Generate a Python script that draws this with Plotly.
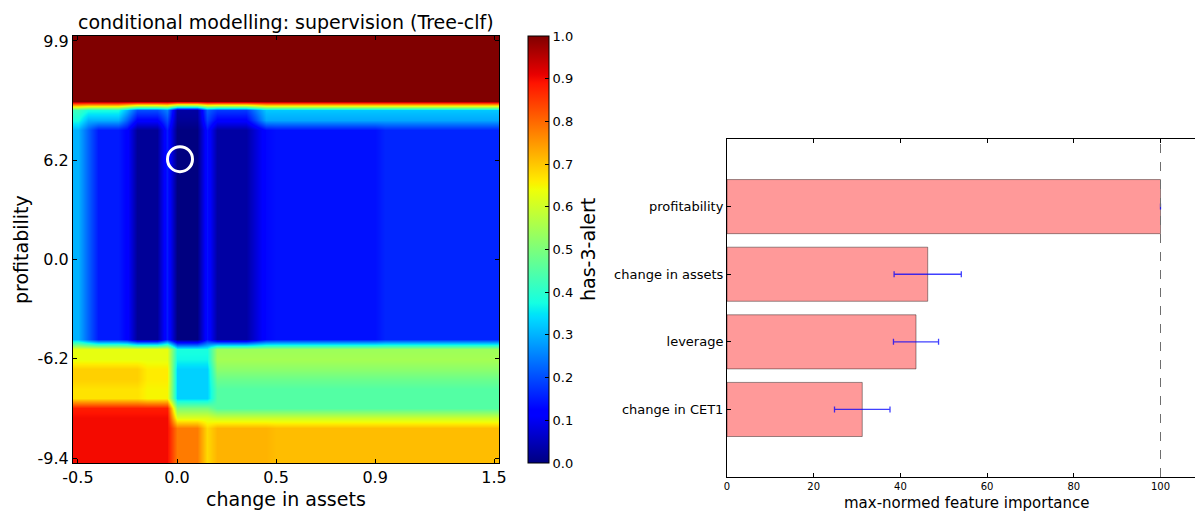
import plotly.graph_objects as go

# ---------------- data ----------------
# Heatmap grid (43 x 43 cells, index coordinates); tick labels on grid indices
tick_index = [0, 10, 20, 30, 42]
x_tick_labels = ["-0.5", "0.0", "0.5", "0.9", "1.5"]
y_tick_labels = ["-9.4", "-6.2", "0.0", "6.2", "9.9"]
n_grid = 43

# row profiles as (value, number of columns) runs, columns left -> right
red_row = [(1.0, 43)]
band_row = [(0.42, 1), (0.38, 4), (0.30, 1), (0.20, 3), (0.25, 1), (0.03, 3),
            (0.22, 1), (0.18, 4), (0.25, 1), (0.32, 24)]
band_row_2 = [(0.38, 1), (0.30, 4), (0.22, 1), (0.12, 3), (0.20, 1), (0.02, 3),
              (0.19, 1), (0.12, 4), (0.20, 1), (0.29, 24)]
body_row = [(0.30, 1), (0.22, 1), (0.15, 3), (0.12, 1), (0.02, 3), (0.15, 1), (0.00, 3),
            (0.14, 1), (0.03, 4), (0.08, 1), (0.13, 1), (0.14, 11), (0.16, 12)]
low_row_1 = [(0.63, 10), (0.38, 4), (0.54, 29)]
low_row_2 = [(0.63, 10), (0.37, 4), (0.55, 29)]
low_row_3 = [(0.69, 7), (0.66, 3), (0.33, 4), (0.52, 29)]
low_row_4 = [(0.69, 7), (0.66, 3), (0.33, 4), (0.48, 29)]
low_row_5 = [(0.67, 7), (0.65, 3), (0.33, 4), (0.45, 29)]
low_row_6 = [(0.67, 7), (0.65, 3), (0.33, 4), (0.45, 29)]
low_row_7 = [(0.88, 10), (0.50, 4), (0.45, 29)]
low_row_8 = [(0.90, 10), (0.62, 4), (0.60, 29)]
bottom_row = [(0.90, 10), (0.78, 3), (0.68, 1), (0.72, 6), (0.71, 23)]

# rows from top to bottom: (profile, repeat count)
row_sequence = [(red_row, 7), (band_row, 1), (band_row_2, 1), (body_row, 22),
                (low_row_1, 1), (low_row_2, 1), (low_row_3, 1), (low_row_4, 1),
                (low_row_5, 1), (low_row_6, 1), (low_row_7, 1), (low_row_8, 1),
                (bottom_row, 4)]

# highlighted instance (grid coordinates)
instance_x = [10.3]
instance_y = [30.1]

# Feature importance
features = ["profitability", "change in assets", "leverage", "change in CET1"]
importance = [100.0, 46.3, 43.6, 31.2]
importance_err = [0.0, 7.75, 5.2, 6.4]
bar_x_ticks = [0, 20, 40, 60, 80, 100]

# ---------------- build matrix ----------------
def expand(runs):
    out = []
    for v, n in runs:
        out.extend([v] * n)
    return out

z_top_down = []
for prof, rep in row_sequence:
    for _ in range(rep):
        z_top_down.append(expand(prof))
z = z_top_down[::-1]  # bottom row first (y index 0 at bottom)

# matplotlib 'jet'
jet = [[0.0, "rgb(0,0,128)"], [0.11, "rgb(0,0,255)"], [0.125, "rgb(0,0,255)"],
       [0.34, "rgb(0,219,255)"], [0.35, "rgb(0,230,247)"], [0.375, "rgb(21,255,226)"],
       [0.64, "rgb(239,255,8)"], [0.65, "rgb(247,246,0)"], [0.66, "rgb(255,236,0)"],
       [0.89, "rgb(255,19,0)"], [0.91, "rgb(232,0,0)"], [1.0, "rgb(128,0,0)"]]

W, H = 1195, 511
FONT = "DejaVu Sans"

def px_x(p):
    return p / W

def px_y(p):
    return 1 - p / H

fig = go.Figure()

fig.add_trace(go.Heatmap(
    z=z, x=list(range(n_grid)), y=list(range(n_grid)),
    zmin=0, zmax=1, colorscale=jet, zsmooth="best",
    xaxis="x", yaxis="y",
    colorbar=dict(
        x=px_x(527.5), xanchor="left", xpad=0, ypad=0,
        y=px_y(249.5), yanchor="middle", len=(463 - 36) / H, lenmode="fraction",
        thickness=21, thicknessmode="pixels",
        outlinecolor="black", outlinewidth=1,
        tickvals=[i / 10 for i in range(11)], tickformat=".1f",
        ticks="inside", ticklen=4, tickcolor="black",
        tickfont=dict(family=FONT, size=13, color="black"),
    ),
    hoverinfo="skip",
))

fig.add_trace(go.Scatter(
    x=instance_x, y=instance_y, mode="markers",
    marker=dict(symbol="circle-open", size=25, color="white", line=dict(width=3, color="white")),
    xaxis="x", yaxis="y", showlegend=False, hoverinfo="skip",
))

fig.add_trace(go.Bar(
    x=importance, y=features, orientation="h", width=0.8,
    marker=dict(color="rgb(255,153,153)", line=dict(color="rgba(0,0,0,0.4)", width=1)),
    error_x=dict(type="data", array=importance_err, color="rgba(0,0,255,0.75)",
                 thickness=1.3, width=3),
    xaxis="x2", yaxis="y2", showlegend=False,
))

axis_common = dict(showgrid=False, zeroline=False, showline=True, linecolor="black",
                   linewidth=1, ticks="inside", tickcolor="black", ticklen=4,
                   automargin=False)

fig.update_layout(
    template="none",
    width=W, height=H, margin=dict(l=0, r=0, t=0, b=0, pad=0), autosize=False,
    paper_bgcolor="white", plot_bgcolor="white",
    font=dict(family=FONT, color="black"),
    showlegend=False,
    xaxis=dict(domain=[px_x(73), px_x(499)], range=[-0.5, n_grid - 0.5],
               tickvals=tick_index, ticktext=x_tick_labels, mirror="ticks",
               tickfont=dict(size=16), anchor="y", **axis_common),
    yaxis=dict(domain=[px_y(463), px_y(36)], range=[-0.5, n_grid - 0.5],
               tickvals=tick_index, ticktext=y_tick_labels, mirror="ticks",
               tickfont=dict(size=16), anchor="x", **axis_common),
    xaxis2=dict(domain=[px_x(727), 1.0], range=[0, (1195 - 727) / 4.335],
                tickvals=bar_x_ticks, mirror="ticks", tickfont=dict(size=10),
                anchor="y2", **axis_common),
    yaxis2=dict(domain=[px_y(477), px_y(139)], range=[3.999, -1], type="category",
                categoryorder="array", categoryarray=features,
                tickfont=dict(size=13), anchor="x2", **axis_common),
    shapes=[dict(type="line", xref="x2", yref="y2 domain", x0=100, x1=100, y0=0, y1=1,
                 line=dict(color="rgb(110,110,110)", width=1, dash="dash"), layer="above")],
    annotations=[
        dict(text="conditional modelling: supervision (Tree-clf)", x=px_x(286), y=px_y(22),
             xref="paper", yref="paper", showarrow=False, xanchor="center", yanchor="middle",
             font=dict(size=19)),
        dict(text="change in assets", x=px_x(286), y=px_y(499), xref="paper", yref="paper",
             showarrow=False, xanchor="center", yanchor="middle", font=dict(size=19)),
        dict(text="profitability", x=px_x(21), y=px_y(250), xref="paper", yref="paper",
             showarrow=False, xanchor="center", yanchor="middle", textangle=-90,
             font=dict(size=19)),
        dict(text="has-3-alert", x=px_x(588), y=px_y(250), xref="paper", yref="paper",
             showarrow=False, xanchor="center", yanchor="middle", textangle=-90,
             font=dict(size=19)),
        dict(text="max-normed feature importance", x=px_x(966), y=px_y(503), xref="paper",
             yref="paper", showarrow=False, xanchor="center", yanchor="middle",
             font=dict(size=15)),
    ],
)

fig.write_html("out.html", config={"displayModeBar": False},
               post_script="document.body.style.margin='0';document.body.style.overflow='hidden';")
